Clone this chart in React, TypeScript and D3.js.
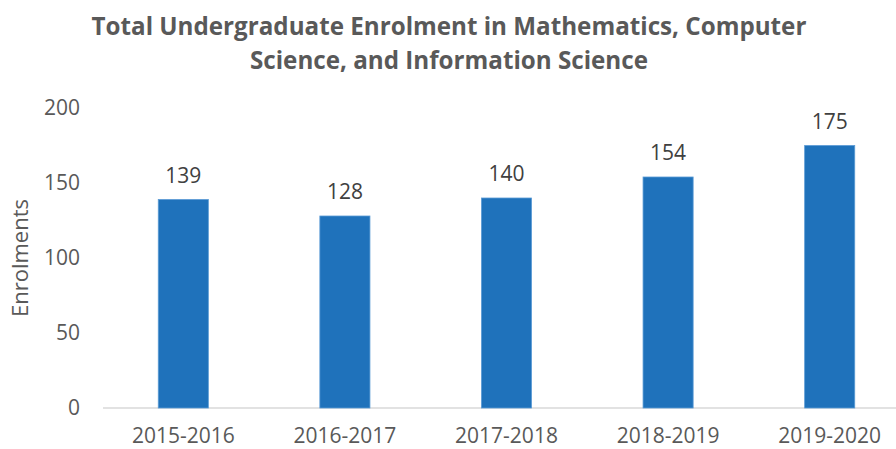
import React from "react";
import * as d3 from "d3";

const categories = ["2015-2016", "2016-2017", "2017-2018", "2018-2019", "2019-2020"];
const values = [139, 128, 140, 154, 175];
const yTicks = [0, 50, 100, 150, 200];
const titleLines = ["Total Undergraduate Enrolment in Mathematics, Computer", "Science, and Information Science"];
const yLabel = "Enrolments";

const W = 896;
const H = 449;
const FONT = "'Open Sans', 'Liberation Sans', sans-serif";
const GRAY = "#595959";

export default function App() {
  const x = d3.scaleBand<string>().domain(categories).range([102.5, 910.5]).paddingInner(0.69).paddingOuter(0.345);
  const y = d3.scaleLinear().domain([0, 200]).range([408, 108]);
  const bw = x.bandwidth();
  return (
    <svg width={W} height={H} style={{ position: "absolute", left: 0, top: 0, background: "#fff" }} fontFamily={FONT}>
      <rect x={0} y={0} width={W} height={H} fill="#fff" />
      {titleLines.map((t, i) => (
        <text key={i} x={449} y={35 + i * 34} textAnchor="middle" fontWeight="bold" fontSize={24.2} fill={GRAY}>
          {t}
        </text>
      ))}
      <text transform={`translate(20,258) rotate(-90)`} textAnchor="middle" dy="0.35em" fontSize={22} fill={GRAY}>
        {yLabel}
      </text>
      {yTicks.map((t) => (
        <text key={t} x={80} y={y(t)} dy="0.35em" textAnchor="end" fontSize={21} fill={GRAY}>
          {t}
        </text>
      ))}
      <line x1={103} x2={W} y1={y(0)} y2={y(0)} stroke="#d9d9d9" strokeWidth={1.5} />
      {categories.map((c, i) => (
        <g key={c}>
          <rect x={x(c)!} y={y(values[i])} width={bw} height={y(0) - y(values[i])} fill="#1f72bb" stroke="#5b9bd5" strokeWidth={0.8} />
          <text x={x(c)! + bw / 2} y={y(values[i]) - 24} dy="0.35em" textAnchor="middle" fontSize={21} fill="#404040">
            {values[i]}
          </text>
          <text x={x(c)! + bw / 2} y={436} dy="0.35em" textAnchor="middle" fontSize={21} fill={GRAY}>
            {c}
          </text>
        </g>
      ))}
    </svg>
  );
}
